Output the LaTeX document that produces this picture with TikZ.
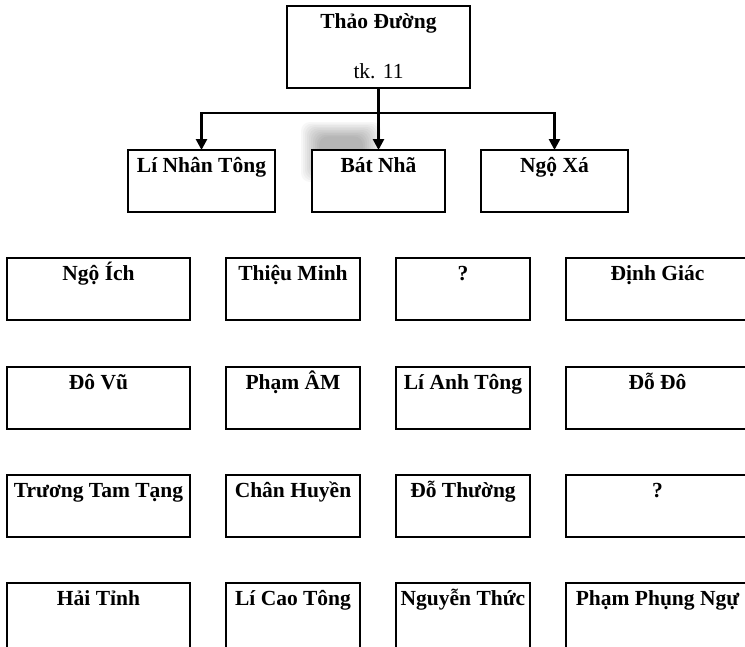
\documentclass[tikz,border=0pt]{standalone}
\usepackage{fontspec}
\setmainfont{Liberation Serif}
\usetikzlibrary{arrows.meta}

% a framed box with its caption set near the top edge
% #1 name, #2 left, #3 top, #4 width, #5 height, #6 caption
\newcommand\pbox[6]{%
  \node[box, minimum width=#4pt, minimum height=#5pt] (#1) at (#2,#3) {};
  \node[lbl] (#1-t) at ([yshift=-22pt]#1.north) {#6};}

\begin{document}
\begin{tikzpicture}[x=1pt,y=-1pt,
  box/.style={draw, line width=2pt, fill=white, inner sep=0pt, outer sep=0pt, anchor=north west},
  lbl/.style={font=\bfseries\fontsize{21.5}{26}\selectfont, anchor=base, inner sep=0pt},
  sub/.style={font=\fontsize{21.5}{26}\selectfont, anchor=base, inner sep=0pt},
  conn/.style={line width=2.6pt},
  tip/.style={conn, -{Triangle[width=11pt,length=11pt]}},
  ]
\useasboundingbox (0,0) rectangle (745,646);
\clip (0,0) rectangle (745,646);
\fill[white] (0,0) rectangle (745,646);

% soft grey smudge behind the middle branch: stacked faint layers
\foreach \k in {0,...,9}{
  \pgfmathsetmacro\hw{40-2*\k}
  \pgfmathsetmacro\hh{30-1.6*\k}
  \fill[black, opacity=0.03, rounded corners=9pt]
    (341-\hw,152-\hh) rectangle (341+\hw,152+\hh);
}

% root
\pbox{root}{287}{6}{183}{82}{Thảo Đường}
\node[sub] (root-s) at ([yshift=-72pt]root.north) {tk. 11};

% second level
\pbox{lnt}{128}{150}{147}{62}{Lí Nhân Tông}
\pbox{bn}{312}{150}{133}{62}{Bát Nhã}
\pbox{nx}{481}{150}{147}{62}{Ngộ Xá}

% connectors
\coordinate (bus) at (378,113);
\draw[tip] (root.south) -- (bn.north);
\draw[tip] (bus) -| (lnt.north);
\draw[tip] (bus) -| (nx.north);

% row 1
\pbox{a1}{7}{258}{183}{62}{Ngộ Ích}
\pbox{b1}{226}{258}{134}{62}{Thiệu Minh}
\pbox{c1}{396}{258}{134}{62}{?}
\pbox{d1}{566}{258}{183}{62}{Định Giác}

% row 2
\pbox{a2}{7}{367}{183}{62}{Đô Vũ}
\pbox{b2}{226}{367}{134}{62}{Phạm ÂM}
\pbox{c2}{396}{367}{134}{62}{Lí Anh Tông}
\pbox{d2}{566}{367}{183}{62}{Đỗ Đô}

% row 3
\pbox{a3}{7}{475}{183}{62}{Trương Tam Tạng}
\pbox{b3}{226}{475}{134}{62}{Chân Huyền}
\pbox{c3}{396}{475}{134}{62}{Đỗ Thường}
\pbox{d3}{566}{475}{183}{62}{?}

% row 4
\pbox{a4}{7}{583}{183}{68}{Hải Tỉnh}
\pbox{b4}{226}{583}{134}{68}{Lí Cao Tông}
\pbox{c4}{396}{583}{134}{68}{Nguyễn Thức}
\pbox{d4}{566}{583}{183}{68}{Phạm Phụng Ngự}
\end{tikzpicture}
\end{document}
